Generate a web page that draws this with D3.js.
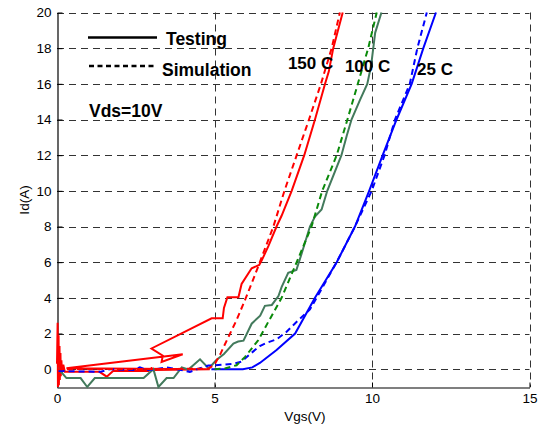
<!DOCTYPE html>
<html>
<head>
<meta charset="utf-8">
<script src="https://cdn.jsdelivr.net/npm/d3@7"></script>
<style>
  body { margin: 0; background: #fff; }
  svg { display: block; }
  text { font-family: "Liberation Sans", Arial, Helvetica, sans-serif; fill: #000; }
</style>
</head>
<body>
<svg id="chart" width="541" height="431"></svg>
<script>
// Axis ticks
const xTicks = [0, 5, 10, 15];
const yTicks = [0, 2, 4, 6, 8, 10, 12, 14, 16, 18, 20];

// Transfer curves: [Vgs (V), Id (A)]
const test150 = [
  [0.0, 0.3], [0.02, 2.6], [0.03, -1.0], [0.05, 1.9], [0.06, -0.9], [0.08, 1.3],
  [0.09, -0.6], [0.11, 0.9], [0.12, -0.4], [0.14, 0.5], [0.16, -0.2], [0.2, 0.25],
  [0.25, -0.15], [1.35, -0.15], [1.58, -0.42], [1.78, -0.1], [2.9, -0.1], [3.0, 0.05],
  [3.1, -0.05], [4.85, 0.0], [0.3, 0.05], [3.99, 0.84], [3.32, 0.41], [3.36, 0.76],
  [3.0, 1.16], [4.91, 2.85], [5.26, 2.85], [5.30, 3.43], [5.41, 4.03], [5.76, 4.03],
  [5.86, 4.78], [6.18, 5.66], [6.42, 5.84], [6.5, 6.1], [6.71, 6.9], [6.97, 8.0],
  [7.13, 8.6], [7.45, 10.0], [7.85, 12.0], [8.19, 14.0], [8.51, 16.0], [8.63, 16.7],
  [8.77, 18.0], [9.07, 20.0]
];
const sim150 = [
  [0.0, 0.0], [4.8, 0.02], [5.0, 0.25], [5.2, 0.9], [5.44, 1.8], [5.7, 2.75],
  [5.97, 3.88], [6.2, 4.9], [6.44, 6.0], [6.87, 8.0], [7.22, 10.0], [7.61, 12.0],
  [8.0, 14.0], [8.38, 16.0], [8.72, 18.0], [8.98, 20.0]
];
const test100 = [
  [0.03, 0.05], [0.3, -0.5], [0.75, -0.5], [0.96, -1.0], [1.2, -0.5], [2.75, -0.5],
  [3.06, 0.0], [3.22, -1.0], [3.48, -0.5], [3.7, -0.5], [3.96, 0.1], [4.17, -0.02],
  [4.54, 0.55], [4.82, 0.04], [5.05, 0.5], [5.3, 0.85], [5.6, 1.44], [5.75, 1.55],
  [5.92, 1.6], [6.18, 2.55], [6.45, 3.0], [6.6, 3.55], [6.82, 3.6], [7.03, 4.1],
  [7.13, 4.6], [7.34, 5.4], [7.6, 5.56], [7.77, 6.5], [8.03, 8.0], [8.19, 8.56],
  [8.4, 8.95], [8.58, 10.0], [9.03, 12.0], [9.2, 13.1], [9.35, 14.0], [9.62, 15.1],
  [9.85, 16.0], [9.97, 17.0], [10.04, 18.0], [10.1, 18.86], [10.3, 20.0]
];
const sim100 = [
  [5.0, 0.0], [5.33, 0.04], [5.7, 0.22], [5.97, 0.69], [6.39, 1.63], [6.71, 2.66],
  [7.13, 4.0], [7.61, 6.0], [8.08, 8.0], [8.42, 10.0], [8.88, 12.0], [9.22, 14.0],
  [9.55, 16.0], [9.88, 18.0], [10.15, 20.0]
];
const test25 = [
  [4.9, 0.0], [5.9, 0.0], [6.2, 0.1], [6.44, 0.35], [6.97, 1.07], [7.56, 2.0],
  [8.19, 4.0], [8.88, 6.0], [9.46, 8.0], [9.91, 10.0], [10.34, 12.0], [10.78, 14.0],
  [11.26, 16.0], [11.63, 18.0], [12.03, 20.0]
];
const sim25 = [
  [0.05, -0.1], [1.37, -0.15], [1.68, 0.0], [2.42, -0.05], [2.63, 0.1], [2.85, -0.05],
  [3.16, 0.0], [3.48, 0.1], [3.8, 0.0], [4.22, -0.15], [4.54, 0.05], [4.8, 0.2],
  [5.02, 0.22], [5.6, 0.3], [5.85, 0.42], [6.13, 0.85], [6.44, 1.3], [6.66, 1.48],
  [6.97, 1.67], [7.29, 2.1], [7.61, 2.66], [8.03, 3.35], [8.24, 4.0], [8.88, 6.0],
  [9.46, 8.0], [9.99, 10.0], [10.4, 12.0], [10.73, 14.0], [11.2, 16.0], [11.44, 18.0],
  [11.74, 20.0]
];

// temperature labels, anchored at their left edge
const curveLabels = [
  { text: "150 C", v: 7.33, i: 16.84 },
  { text: "100 C", v: 9.14, i: 16.67 },
  { text: "25 C", v: 11.43, i: 16.5 }
];

const svg = d3.select("#chart");
svg.append("rect").attr("width", 541).attr("height", 431).attr("fill", "#fff");

const x = d3.scaleLinear().domain([0, 15]).range([57, 529.5]);
const y = d3.scaleLinear().domain([-1, 20]).range([387, 12.5]);

// dashed grid at every tick
const grid = svg.append("g").attr("stroke", "#333").attr("stroke-width", 1)
  .attr("stroke-dasharray", "7,5").attr("fill", "none");
grid.selectAll("line.h").data(yTicks).join("line").attr("class", "h")
  .attr("x1", x(0)).attr("x2", x(15))
  .attr("y1", d => Math.round(y(d)) + 0.5).attr("y2", d => Math.round(y(d)) + 0.5);
grid.selectAll("line.v").data(xTicks.filter(d => d > 0)).join("line").attr("class", "v")
  .attr("y1", y(20)).attr("y2", y(-1))
  .attr("x1", d => Math.round(x(d)) + 0.5).attr("x2", d => Math.round(x(d)) + 0.5);

// axes
const xAxis = d3.axisBottom(x).tickValues(xTicks).tickSizeInner(-5).tickSizeOuter(0).tickPadding(6);
const yAxis = d3.axisLeft(y).tickValues(yTicks).tickSizeInner(-5).tickSizeOuter(0).tickPadding(6);
const gx = svg.append("g").attr("transform", `translate(0,${Math.round(y(-1)) + 0.5})`).call(xAxis);
const gy = svg.append("g").attr("transform", `translate(${Math.round(x(0)) + 0.5},0)`).call(yAxis);
[gx, gy].forEach(g => {
  g.select(".domain").attr("stroke", "#000").attr("stroke-width", 1.2);
  g.selectAll(".tick line").attr("stroke", "#000");
  g.selectAll(".tick text").attr("font-size", 13.5)
    .attr("font-family", "'Liberation Sans', Arial, sans-serif").attr("fill", "#000");
});

svg.append("text").attr("x", 305).attr("y", 421).attr("text-anchor", "middle")
  .attr("font-size", 13.5).text("Vgs(V)");
svg.append("text").attr("transform", "translate(29,200) rotate(-90)")
  .attr("text-anchor", "middle").attr("font-size", 13.5).text("Id(A)");

// curves
const line = d3.line().x(d => x(d[0])).y(d => y(d[1]));
const series = [
  { data: test150, color: "#ff0000", dash: null },
  { data: test100, color: "#437a5c", dash: null },
  { data: test25, color: "#0000ff", dash: null },
  { data: sim25, color: "#0000ff", dash: "6,4" },
  { data: sim100, color: "#0a8a0a", dash: "6,4" },
  { data: sim150, color: "#ff0000", dash: "6,4" }
];
svg.append("g").selectAll("path").data(series).join("path")
  .attr("d", d => line(d.data))
  .attr("fill", "none")
  .attr("stroke", d => d.color)
  .attr("stroke-width", 2)
  .attr("stroke-linejoin", "miter")
  .attr("stroke-dasharray", d => d.dash);

// legend
const lg = svg.append("g");
lg.append("line").attr("x1", 88).attr("x2", 157).attr("y1", 37.5).attr("y2", 37.5)
  .attr("stroke", "#000").attr("stroke-width", 2.5);
lg.append("line").attr("x1", 89).attr("x2", 157).attr("y1", 66).attr("y2", 66)
  .attr("stroke", "#000").attr("stroke-width", 2.5).attr("stroke-dasharray", "5,3.5");
lg.append("text").attr("x", 166).attr("y", 45).attr("font-size", 17.5)
  .attr("font-weight", "bold").text("Testing");
lg.append("text").attr("x", 162).attr("y", 76).attr("font-size", 17.5)
  .attr("font-weight", "bold").text("Simulation");
svg.append("text").attr("x", 89).attr("y", 117).attr("font-size", 17.5)
  .attr("font-weight", "bold").text("Vds=10V");

svg.append("g").selectAll("text").data(curveLabels).join("text")
  .attr("x", d => x(d.v)).attr("y", d => y(d.i)).attr("text-anchor", "start")
  .attr("font-size", 17).attr("font-weight", "bold").text(d => d.text);
</script>
</body>
</html>
